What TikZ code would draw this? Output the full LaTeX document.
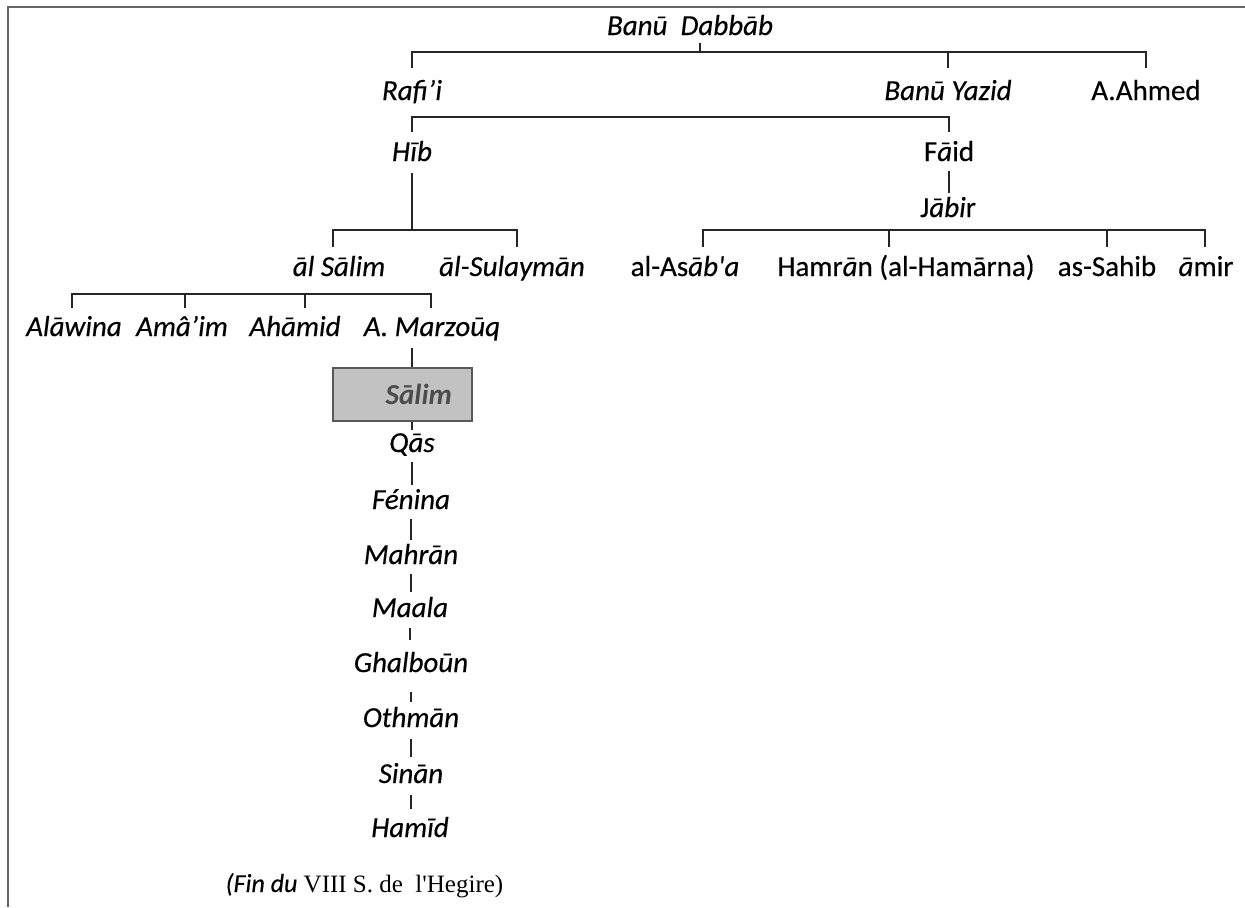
\documentclass[tikz,border=0pt]{standalone}
\usepackage{fontspec}
\setmainfont{Carlito}[UprightFeatures={FakeBold=0.4}, ItalicFeatures={FakeBold=0.4}]
\newfontfamily\serifface{Liberation Serif}
\begin{document}
\begin{tikzpicture}[x=0.5pt,y=-0.5pt,
  nm/.style={font=\fontsize{14.5}{17}\selectfont\itshape, inner sep=0pt, text height=11pt, text depth=3.6pt, anchor=base},
  up/.style={font=\fontsize{14.5}{17}\selectfont, inner sep=0pt, text height=11pt, text depth=3.6pt, anchor=base},
  link/.style={line width=1pt, black!85},
  hbox/.style={draw=black!65, line width=1pt, fill=black!24, minimum height=26.5pt, text width=49.5pt, inner xsep=10pt, inner ysep=0pt, align=right, text=black!70, font=\fontsize{14.5}{17}\selectfont\itshape\bfseries}]
\useasboundingbox (0,0) rectangle (1245,907);
% frame
\draw[line width=1pt, black!60] (1245,7) -- (8,7) -- (8,907);

% nodes
\node[nm] (bd) at (690,35) {Banū\ \ Dabbāb};
\node[nm] (rafi) at (412,100) {Rafi’i};
\node[nm] (yazid) at (948,100) {Banū Yazid};
\node[up] (ahmed) at (1146,100) {A.Ahmed};
\node[nm] (hib) at (412,161) {Hīb};
\node[up] (faid) at (949,161) {F\textit{ā}id};
\node[up] (jabir) at (948,217) {J\textit{ābi}r};
\node[nm] (alsalim) at (339,276) {āl Sālim};
\node[nm] (sulay) at (512,276) {āl-Sulaymān};
\node[up] (asaba) at (685,276) {al-As\textit{āb\textquotesingle a}};
\node[up] (hamran) at (906,276) {Hamr\textit{ā}n (al-Hamārna)};
\node[up] (sahib) at (1107,276) {as-Sahib};
\node[up] (amir) at (1206,276) {\textit{ā}mir};
\node[nm] (alawina) at (74,336) {Alāwina};
\node[nm] (amaim) at (182,336) {Amâ’im};
\node[nm] (ahamid) at (295,336) {Ahāmid};
\node[nm] (marzouq) at (432,336) {A. Marzoūq};
\node[hbox] (salim) at (402.5,394.5) {Sālim};
\node[nm] (qas) at (412,452) {Qās};
\node[nm] (fenina) at (411,509) {Fénina};
\node[nm] (mahran) at (411,564) {Mahrān};
\node[nm] (maala) at (410,617) {Maala};
\node[nm] (ghal) at (411,672) {Ghalboūn};
\node[nm] (othman) at (411,727) {Othmān};
\node[nm] (sinan) at (411,783) {Sinān};
\node[nm] (hamid) at (410,837) {Hamīd};
\node[anchor=base, inner sep=0pt] (foot) at (364.5,892)
  {\fontsize{13}{15}\selectfont\itshape (Fin du\upshape\serifface\fontsize{12.5}{15}\selectfont{} VIII S. de\ \ l\textquotesingle Hegire)};

% bus coordinates
\coordinate (b0) at (700,52);
\coordinate (b1) at (680,117);
\coordinate (b2l) at (333,230);
\coordinate (b2r) at (517,230);
\coordinate (b3l) at (703,230);
\coordinate (b3a) at (889,230);
\coordinate (b3b) at (1107,230);
\coordinate (b3r) at (1205,230);
\coordinate (b4a) at (72,294);
\coordinate (b4b) at (185,294);
\coordinate (b4c) at (305,294);
\coordinate (b4d) at (431,294);

% level 0 -> 1
\draw[link] (bd.south -| b0) -- (b0);
\draw[link, shorten <=5pt, shorten >=5pt] (rafi.north) |- (b0) -| (ahmed.north);
\draw[link, shorten >=5pt] (b0 -| yazid) -- (yazid.north);
% level 1 -> 2
\draw[link, shorten <=3.5pt, shorten >=3.5pt] (hib.north) |- (b1) -| (faid.north);
% Hib -> children
\draw[link, shorten <=2pt] (hib.south) -- (hib.south |- b2l);
\draw[link, shorten <=3.5pt, shorten >=3.5pt] (b2l |- alsalim.north) -- (b2l) -- (b2r) -- (b2r |- sulay.north);
% Faid -> Jabir
\draw[link, shorten <=1pt, shorten >=1pt] (faid.south) -- (faid.south |- jabir.north);
% Jabir -> children
\draw[link, shorten <=3.5pt, shorten >=3.5pt] (b3l |- asaba.north) -- (b3l) -- (b3r) -- (b3r |- amir.north);
\draw[link, shorten >=3.5pt] (b3a) -- (b3a |- hamran.north);
\draw[link, shorten >=3.5pt] (b3b) -- (b3b |- sahib.north);
% al Salim children
\draw[link, shorten <=3pt, shorten >=3pt] (b4a |- alawina.north) -- (b4a) -- (b4d) -- (b4d |- marzouq.north);
\draw[link, shorten >=3pt] (b4b) -- (b4b |- amaim.north);
\draw[link, shorten >=3pt] (b4c) -- (b4c |- ahamid.north);
% chain
\draw[link, shorten <=2pt] ([xshift=4.75pt]salim.north |- marzouq.south) -- ([xshift=4.75pt]salim.north);
\draw[link] ([xshift=4.75pt]salim.south) -- ([xshift=4.75pt]salim.south |- qas.north);
\draw[link, shorten <=1pt, shorten >=1pt] (qas.south) -- (qas.south |- fenina.north);
\draw[link, shorten <=1pt, shorten >=1pt] (fenina.south) -- (fenina.south |- mahran.north);
\draw[link, shorten <=1pt, shorten >=1.5pt] (mahran.south) -- (mahran.south |- maala.north);
\draw[link, shorten <=1.5pt, shorten >=5pt] (maala.south) -- (maala.south |- ghal.north);
\draw[link, shorten <=6pt, shorten >=1.5pt] (ghal.south) -- (ghal.south |- othman.north);
\draw[link, shorten <=2pt, shorten >=2pt] (othman.south) -- (othman.south |- sinan.north);
\draw[link, shorten <=2pt, shorten >=3pt] (sinan.south) -- (sinan.south |- hamid.north);
\end{tikzpicture}
\end{document}
